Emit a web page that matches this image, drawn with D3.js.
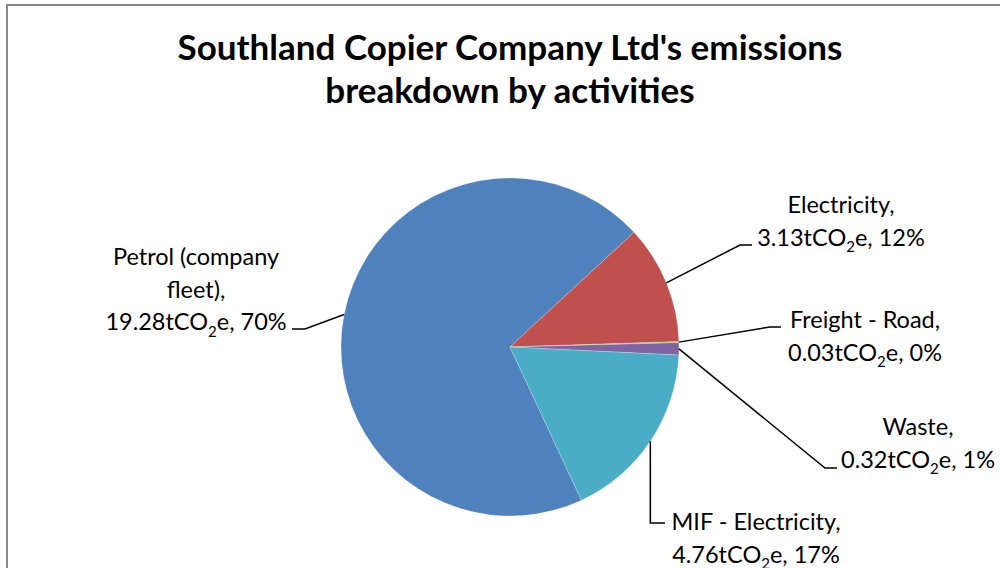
<!DOCTYPE html>
<html>
<head>
<meta charset="utf-8">
<script src="https://cdn.jsdelivr.net/npm/d3@7"></script>
<style>
  body { margin: 0; background: #fff; }
  svg { display: block; }
  text { font-family: Lato, "Open Sans", sans-serif; fill: #000; }
</style>
</head>
<body>
<svg id="chart"></svg>
<script>
// data, in Excel series order
var activities = ["Petrol (company fleet)", "Electricity", "Freight - Road", "Waste", "MIF - Electricity"];
var emissions = [19.28, 3.13, 0.03, 0.32, 4.76];
var percents = ["70%", "12%", "0%", "1%", "17%"];
var colours = ["#4F81BD", "#C0504D", "#9BBB59", "#8064A2", "#4BACC6"];

// label first lines (names wrap like excel did)
var nameLines = [["Petrol (company", "fleet),"], ["Electricity,"], ["Freight - Road,"], ["Waste,"], ["MIF - Electricity,"]];

var width = 1000,
	height = 568;

var svg = d3.select('#chart')
	.attr('width', width)
	.attr('height', height);

// chart area border
svg.append('rect')
	.attr('x', 7).attr('y', 5)
	.attr('width', 1000).attr('height', 600)
	.attr('fill', 'none')
	.attr('stroke', '#888')
	.attr('stroke-width', 2);

// title
var title = svg.append('text')
	.attr('text-anchor', 'middle')
	.attr('font-weight', 'bold')
	.attr('font-size', 35);
title.append('tspan').attr('x', 510).attr('y', 60).text("Southland Copier Company Ltd's emissions");
title.append('tspan').attr('x', 510).attr('y', 103).text("breakdown by activities");

var cx = 510, cy = 347, radius = 169;
var startDeg = 155;

var pie = d3.pie()
	.sort(null)
	.startAngle(startDeg * Math.PI / 180)
	.endAngle((startDeg + 360) * Math.PI / 180);

var arc = d3.arc().innerRadius(0).outerRadius(radius);

var slices = pie(emissions);

var g = svg.append('g').attr('transform', 'translate(' + cx + ',' + cy + ')');

g.selectAll('path.slice')
	.data(slices)
	.enter()
	.append('path')
	.attr('class', 'slice')
	.attr('d', arc)
	.attr('fill', function(d, i) { return colours[i]; })
	.attr('stroke', 'rgba(255,255,255,0.35)')
	.attr('stroke-width', 0.6);

// label layout: elbow, end of leader, text centre, first baseline
var labelLayout = [
	{elbow: [305, 329], end: [292, 329], tx: 196, ty: 265},
	{elbow: [740, 245], end: [752, 245], tx: 841, ty: 213},
	{elbow: [770, 327], end: [781, 327], tx: 865, ty: 328},
	{elbow: [825, 468], end: [837, 468], tx: 918, ty: 435},
	{elbow: null, end: [665, 523], tx: 756, ty: 530}
];
var lineGap = 32.5;

slices.forEach(function(d, i){
	var mid = (d.startAngle + d.endAngle) / 2;
	var sx = cx + radius * Math.sin(mid),
		sy = cy - radius * Math.cos(mid);
	var L = labelLayout[i];
	var elbow = L.elbow || [sx, L.end[1]];
	svg.append('path')
		.attr('d', d3.line()([[sx, sy], elbow, L.end]))
		.attr('fill', 'none')
		.attr('stroke', '#000')
		.attr('stroke-width', 1.5);

	var t = svg.append('text')
		.attr('text-anchor', 'middle')
		.attr('font-size', 23.5);
	nameLines[i].forEach(function(s, k){
		t.append('tspan').attr('x', L.tx).attr('y', L.ty + k * lineGap).text(s);
	});
	var last = t.append('tspan').attr('x', L.tx).attr('y', L.ty + nameLines[i].length * lineGap);
	last.text(emissions[i].toFixed(2) + 'tCO');
	t.append('tspan').attr('dy', 6.5).attr('font-size', 15).text('2');
	t.append('tspan').attr('dy', -6.5).text('e, ' + percents[i]);
});
</script>
</body>
</html>
